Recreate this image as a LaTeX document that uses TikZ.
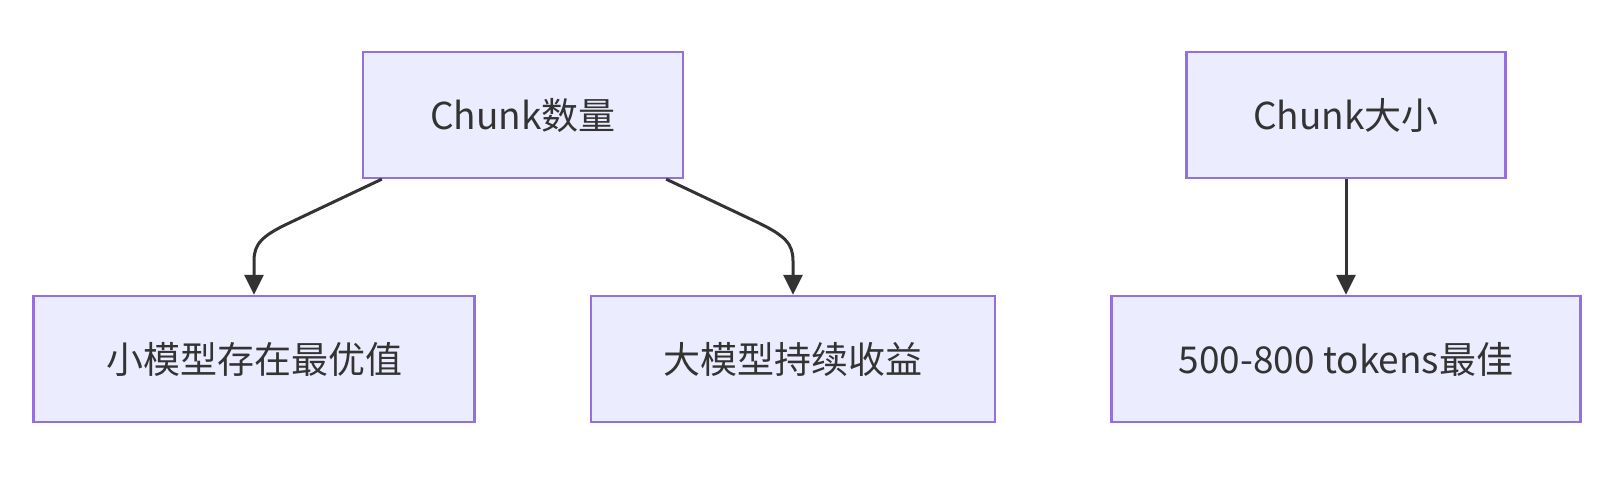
\documentclass[tikz,border=0pt]{standalone}
\usepackage{fontspec}
\setmainfont{Noto Sans CJK SC}
\usetikzlibrary{arrows.meta,calc}
\definecolor{boxfill}{HTML}{ECECFF}
\definecolor{boxline}{HTML}{9370DB}
\definecolor{ink}{HTML}{333333}
\begin{document}
\begin{tikzpicture}[x=1pt,y=-1pt,
  box/.style={draw=boxline,fill=boxfill,line width=2.3pt,rectangle,
    minimum height=126pt,inner sep=0pt,text=ink,
    font=\fontsize{37pt}{44pt}\selectfont},
  link/.style={draw=ink,line width=3pt,-{Triangle[length=20pt,width=19pt]}}]
\useasboundingbox (0,0) rectangle (1618,484);
\node[box,minimum width=320pt] (n1) at (523,115) {Chunk数量};
\node[box,minimum width=319pt] (n4) at (1346,115) {Chunk大小};
\node[box,minimum width=441pt] (n2) at (254,359) {小模型存在最优值};
\node[box,minimum width=404pt] (n3) at (793,359) {大模型持续收益};
\node[box,minimum width=469pt] (n5) at (1346,359) {500-800 tokens最佳};
\coordinate (s1) at ([xshift=20pt]n1.south west);
\coordinate (s2) at ([xshift=-18pt]n1.south east);
\draw[link] (s1) -- ($(s1)+(-93,44)$)
  .. controls ($(n2.north)+(8,-59)$) and ($(n2.north)+(0,-51)$) .. ($(n2.north)+(0,-34)$) -- (n2.north);
\draw[link] (s2) -- ($(s2)+(93,44)$)
  .. controls ($(n3.north)+(-8,-59)$) and ($(n3.north)+(0,-51)$) .. ($(n3.north)+(0,-34)$) -- (n3.north);
\draw[link] (n4.south) -- (n5.north);
\end{tikzpicture}
\end{document}
